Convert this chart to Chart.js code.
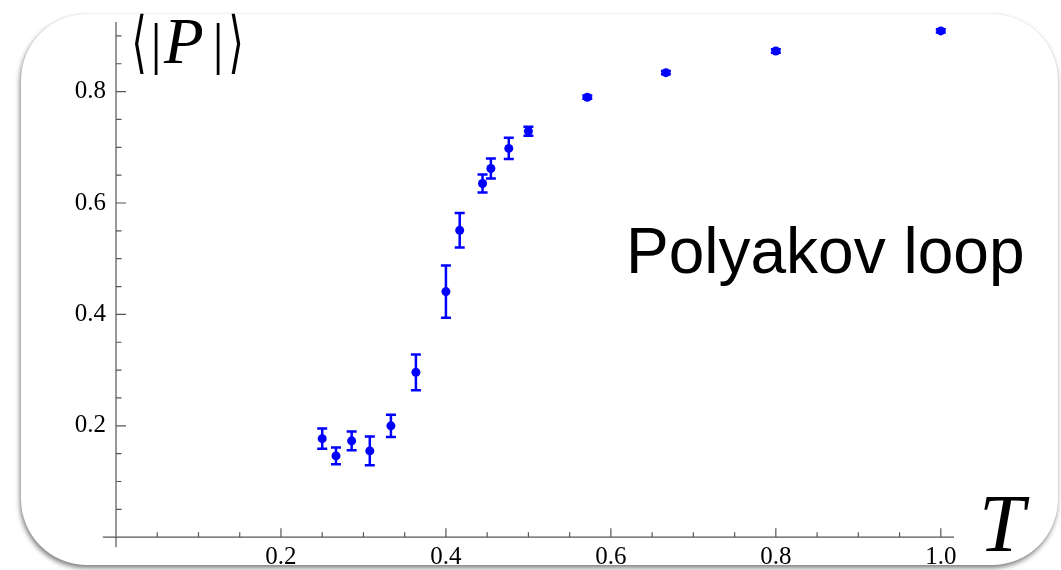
<!DOCTYPE html>
<html>
<head>
<meta charset="utf-8">
<script src="https://cdn.jsdelivr.net/npm/chart.js@4.4.1/dist/chart.umd.min.js"></script>
<style>
  html, body { margin: 0; padding: 0; background: #fff; }
  #wrap { position: relative; width: 1061px; height: 570px; overflow: hidden; }
  #frame {
    position: absolute; left: 21px; top: 14px; width: 1037px; height: 551px;
    border-radius: 66px; background: #fff;
    box-shadow: -1px 3px 5px rgba(0,0,0,0.5), 0 0 1px rgba(0,0,0,0.15);
  }
  #grafico { position: absolute; left: 0; top: 0; }
</style>
</head>
<body>
<div id="wrap">
  <div id="frame"></div>
  <canvas id="grafico" width="1061" height="570"></canvas>
</div>
<script>
// temperatures, Polyakov loop expectation and error bars
const temps = [0.25, 0.2667, 0.2857, 0.3077, 0.3333, 0.3636, 0.4, 0.4167, 0.4444, 0.4545, 0.4762, 0.5, 0.5714, 0.6667, 0.8, 1.0];
const polyakov = [0.177, 0.146, 0.173, 0.155, 0.200, 0.296, 0.441, 0.551, 0.635, 0.662, 0.698, 0.729, 0.790, 0.834, 0.873, 0.909];
const errors = [0.018, 0.015, 0.017, 0.026, 0.020, 0.032, 0.047, 0.031, 0.016, 0.018, 0.019, 0.008, 0.003, 0.003, 0.003, 0.003];

const xTicks = [0.2, 0.4, 0.6, 0.8, 1.0];
const yTicks = [0.2, 0.4, 0.6, 0.8];
const xMinor = [0.05, 0.1, 0.15, 0.25, 0.3, 0.35, 0.45, 0.5, 0.55, 0.65, 0.7, 0.75, 0.85, 0.9, 0.95];
const yMinor = [0.05, 0.1, 0.15, 0.25, 0.3, 0.35, 0.45, 0.5, 0.55, 0.65, 0.7, 0.75, 0.85, 0.9];

const BLUE = "#0000ff";
const AXIS = "#555555";
const SERIF = "'Liberation Serif', 'Times New Roman', serif";

const ctx = document.getElementById("grafico").getContext("2d");

// error bars
const errorBars = {
  id: "errorBars",
  afterDatasetsDraw(chart) {
    const x = chart.scales.x, y = chart.scales.y;
    const c = chart.ctx;
    c.save();
    c.strokeStyle = BLUE;
    c.lineWidth = 2.5;
    temps.forEach((t, i) => {
      const px = x.getPixelForValue(t);
      const top = y.getPixelForValue(polyakov[i] + errors[i]);
      const bot = y.getPixelForValue(polyakov[i] - errors[i]);
      c.beginPath();
      c.moveTo(px, top); c.lineTo(px, bot);
      c.moveTo(px - 5, top); c.lineTo(px + 5, top);
      c.moveTo(px - 5, bot); c.lineTo(px + 5, bot);
      c.stroke();
    });
    c.restore();
  }
};

// axes crossing at the origin, ticks pointing inward, plus labels
const axesAndLabels = {
  id: "axesAndLabels",
  afterDraw(chart) {
    const x = chart.scales.x, y = chart.scales.y;
    const c = chart.ctx;
    const x0 = x.getPixelForValue(0), y0 = y.getPixelForValue(0);
    c.save();
    c.strokeStyle = AXIS;
    c.lineWidth = 1.2;
    c.beginPath();
    c.moveTo(x.getPixelForValue(-0.016), y0);
    c.lineTo(x.getPixelForValue(1.016), y0);
    c.moveTo(x0, y.getPixelForValue(-0.018));
    c.lineTo(x0, y.getPixelForValue(0.925));
    xTicks.forEach(v => { const p = x.getPixelForValue(v); c.moveTo(p, y0); c.lineTo(p, y0 - 9); });
    xMinor.forEach(v => { const p = x.getPixelForValue(v); c.moveTo(p, y0); c.lineTo(p, y0 - 5); });
    yTicks.forEach(v => { const p = y.getPixelForValue(v); c.moveTo(x0, p); c.lineTo(x0 + 10, p); });
    yMinor.forEach(v => { const p = y.getPixelForValue(v); c.moveTo(x0, p); c.lineTo(x0 + 5.5, p); });
    c.stroke();

    c.fillStyle = "#000";
    c.textBaseline = "alphabetic";
    // <|P|>  (angle brackets stretched to the height of the bars)
    const by = 63;
    c.font = "52px 'DejaVu Serif', " + SERIF;
    c.textAlign = "center";
    c.save(); c.translate(x0 + 23, by + 2); c.scale(0.75, 1.3);
    c.fillText("\u27E8", 0, 0); c.restore();
    c.save(); c.translate(x0 + 120, by + 2); c.scale(0.75, 1.3);
    c.fillText("\u27E9", 0, 0); c.restore();
    c.font = "56px " + SERIF;
    c.fillText("|", x0 + 40, by);
    c.fillText("|", x0 + 102, by);
    c.textAlign = "left";
    c.font = "italic 65px " + SERIF;
    c.fillText("P", x0 + 48, by);
    // T
    c.font = "italic 82px " + SERIF;
    c.fillText("T", x.getPixelForValue(1.016) + 25, 551);
    // annotation
    c.font = "64px 'Liberation Sans', Arial, sans-serif";
    c.fillText("Polyakov loop", 626, 273);
    c.restore();
  }
};

const chart = new Chart(ctx, {
  type: "scatter",
  data: {
    datasets: [{
      label: "<|P|>",
      data: temps.map((t, i) => ({ x: t, y: polyakov[i] })),
      backgroundColor: BLUE,
      borderWidth: 0,
      pointRadius: 4.5,
      pointHoverRadius: 4.5
    }]
  },
  options: {
    responsive: false,
    animation: false,
    devicePixelRatio: 1,
    layout: { padding: { left: 0, right: 107, top: 22, bottom: 0 } },
    plugins: { legend: { display: false }, tooltip: { enabled: false } },
    scales: {
      x: {
        type: "linear",
        min: -0.0085,
        max: 1.016,
        afterBuildTicks: s => { s.ticks = xTicks.map(v => ({ value: v })); },
        afterFit: s => { s.height = 30; },
        ticks: {
          color: "#000",
          padding: 2,
          maxRotation: 0,
          font: { family: SERIF, size: 25 },
          callback: v => v.toFixed(1)
        },
        grid: { display: false, drawTicks: false },
        border: { display: false }
      },
      y: {
        type: "linear",
        min: -0.005,
        max: 0.925,
        afterBuildTicks: s => { s.ticks = yTicks.map(v => ({ value: v })); },
        afterFit: s => { s.width = 109; },
        ticks: {
          color: "#000",
          padding: 3,
          font: { family: SERIF, size: 25 },
          callback: v => v.toFixed(1)
        },
        grid: { display: false, drawTicks: false },
        border: { display: false }
      }
    }
  },
  plugins: [errorBars, axesAndLabels]
});
</script>
</body>
</html>
